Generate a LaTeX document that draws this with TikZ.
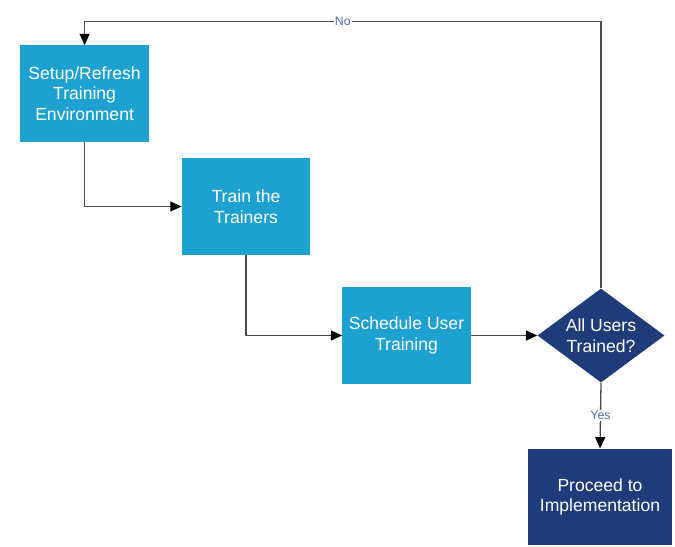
\documentclass[tikz,border=0pt]{standalone}
\usepackage{fontspec}
\setmainfont{Liberation Sans}
\usepackage{xcolor}
\usetikzlibrary{arrows.meta,positioning,shapes.geometric}
\definecolor{stageblue}{HTML}{1DA1D1}
\definecolor{finalnavy}{HTML}{1F3B7A}
\definecolor{flowink}{HTML}{4A4A4A}
\definecolor{answerblue}{HTML}{4D6BAA}

\begin{document}
\begin{tikzpicture}[
  x=0.03cm, y=-0.03cm,
  font=\fontsize{15}{17.5}\selectfont,
  stage/.style={fill=stageblue, minimum width=3.85cm, minimum height=2.9cm,
    align=center, text=white, inner sep=2pt},
  final/.style={stage, fill=finalnavy, minimum width=4.32cm},
  check/.style={diamond, fill=finalnavy, aspect=1.35, inner sep=0pt,
    minimum width=3.81cm, minimum height=2.82cm, align=center, text=white},
  flow/.style={-{Triangle[length=3.4mm, width=3mm, color=black]},
    line width=1.1pt, draw=flowink},
  answer/.style={font=\fontsize{10.5}{12}\selectfont, text=answerblue,
    fill=white, inner sep=1pt}
]
  \useasboundingbox (0,0) rectangle (675,546);

  \node[stage] (setup) at (84.6,93.7) {Setup/Refresh\\Training\\Environment};
  \node[stage] (trainers) at (246,206.5) {Train the\\Trainers};
  \node[stage] (schedule) at (406.5,335.5) {Schedule User\\Training};
  \node[check] (alltrained) at (601,335.5) {All Users\\Trained?};
  \node[final] (proceed) at (600,497) {Proceed to\\Implementation};

  \draw[flow] (setup.south) |- (trainers.west);
  \draw[flow] (trainers.south) |- (schedule.west);
  \draw[flow] (schedule.east) -- (alltrained.west);
  \draw[flow] (alltrained.south) -- node[answer] {Yes} (proceed.north);
  \draw[flow] (alltrained.north) -- ++(0,-266.6)
    -| node[answer, pos=0.25] {No} (setup.north);
\end{tikzpicture}
\end{document}
